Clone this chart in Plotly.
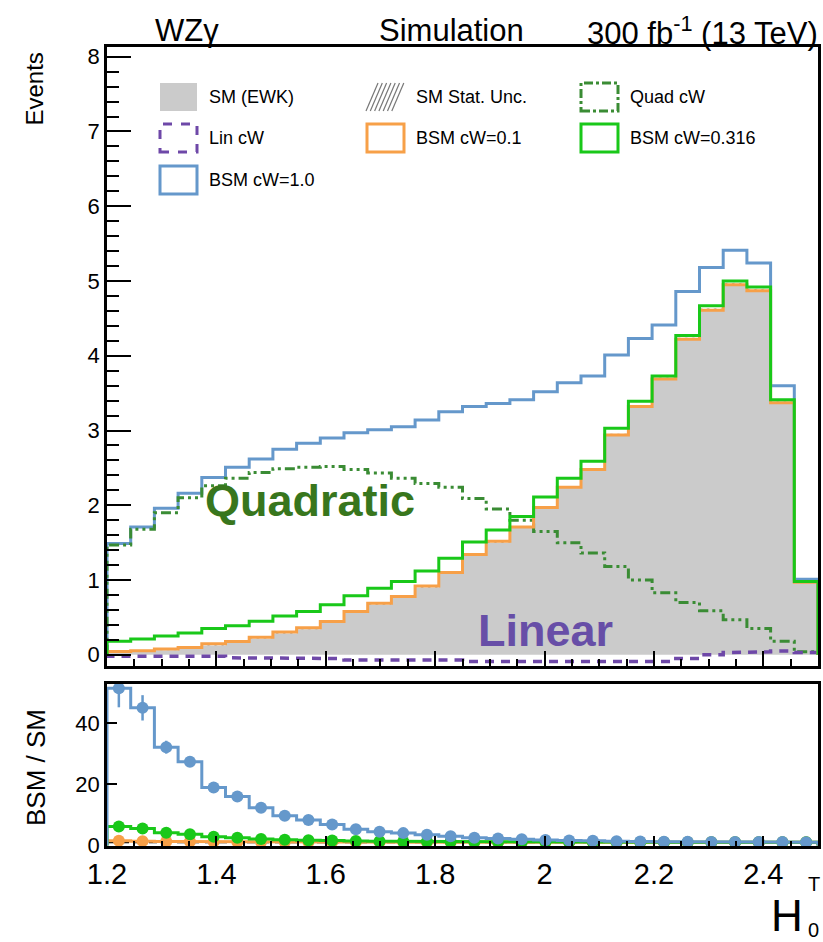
import numpy as np
import plotly.graph_objects as go

# ---------------- data (30 bins, 1.2 -> 2.5) ----------------
x_min, x_max, n_bins = 1.2, 2.5, 30

sm_ewk = [0.029, 0.038, 0.061, 0.079, 0.125, 0.157, 0.213, 0.284, 0.341, 0.426,
          0.56, 0.67, 0.76, 0.90, 1.08, 1.32, 1.50, 1.70, 1.96, 2.23,
          2.47, 2.93, 3.31, 3.68, 4.21, 4.60, 4.94, 4.86, 3.36, 0.96]
sm_stat_unc = [0.0035, 0.0035, 0.004, 0.0045, 0.006, 0.007, 0.008, 0.009, 0.010, 0.011,
               0.012, 0.013, 0.014, 0.015, 0.017, 0.018, 0.020, 0.021, 0.023, 0.024,
               0.025, 0.027, 0.029, 0.030, 0.032, 0.034, 0.035, 0.035, 0.030, 0.015]
quad_cw = [1.47, 1.68, 1.90, 2.10, 2.26, 2.36, 2.44, 2.49, 2.51, 2.52,
           2.48, 2.43, 2.36, 2.29, 2.24, 2.09, 1.95, 1.80, 1.65, 1.50,
           1.36, 1.18, 1.00, 0.83, 0.70, 0.59, 0.47, 0.35, 0.18, 0.04]
lin_cw = [-0.02, -0.02, -0.02, -0.02, -0.02, -0.04, -0.04, -0.05, -0.05, -0.05,
          -0.07, -0.07, -0.07, -0.07, -0.07, -0.09, -0.09, -0.09, -0.09, -0.09,
          -0.09, -0.09, -0.09, -0.09, -0.05, 0.00, 0.03, 0.04, 0.05, 0.03]
bsm_cw_0p1 = [0.044, 0.053, 0.078, 0.098, 0.146, 0.177, 0.234, 0.304, 0.361, 0.446,
              0.58, 0.69, 0.78, 0.92, 1.10, 1.34, 1.52, 1.71, 1.97, 2.24,
              2.48, 2.94, 3.32, 3.69, 4.22, 4.61, 4.95, 4.87, 3.37, 0.97]
bsm_cw_0p316 = [0.18, 0.21, 0.25, 0.29, 0.35, 0.39, 0.45, 0.52, 0.58, 0.67,
                0.79, 0.89, 0.98, 1.12, 1.29, 1.51, 1.67, 1.85, 2.11, 2.36,
                2.59, 3.03, 3.39, 3.73, 4.27, 4.67, 5.00, 4.92, 3.41, 0.98]
bsm_cw_1p0 = [1.49, 1.71, 1.96, 2.16, 2.37, 2.51, 2.62, 2.75, 2.83, 2.90,
              2.97, 3.01, 3.05, 3.14, 3.25, 3.32, 3.36, 3.41, 3.52, 3.64,
              3.73, 4.01, 4.23, 4.41, 4.86, 5.18, 5.41, 5.24, 3.60, 1.01]

legend_labels = ["SM (EWK)", "SM Stat. Unc.", "Quad cW",
                 "Lin cW", "BSM cW=0.1", "BSM cW=0.316", "BSM cW=1.0"]

# ---------------- style ----------------
FONT = "Liberation Sans, Arial, Helvetica, sans-serif"
C_SM = "#cbcbcb"
C_BLUE = "#6598cb"
C_GREEN = "#19c819"
C_ORANGE = "#f7a048"
C_QUAD = "#3a8c34"
C_LIN = "#6e48a8"
W, H = 823, 942


def fx(px):
    return px / W


def fy(py):
    return 1 - py / H


edges = np.linspace(x_min, x_max, n_bins + 1)
centers = 0.5 * (edges[:-1] + edges[1:])
bw = edges[1] - edges[0]


def step_xy(vals):
    xs, ys = [edges[0]], [0.0]
    for i, v in enumerate(vals):
        xs += [edges[i], edges[i + 1]]
        ys += [v, v]
    xs.append(edges[-1])
    ys.append(0.0)
    return xs, ys


sm = np.array(sm_ewk)
unc = np.array(sm_stat_unc)

fig = go.Figure()

# SM filled histogram
sx, sy = step_xy(sm_ewk)
fig.add_trace(go.Scatter(x=sx, y=sy, mode="lines", fill="tozeroy",
                         fillcolor=C_SM, line=dict(color=C_SM, width=0),
                         xaxis="x", yaxis="y", hoverinfo="skip"))
# SM stat unc (hatched)
fig.add_trace(go.Bar(x=centers, y=2 * unc, base=sm - unc, width=bw,
                     marker=dict(color="rgba(0,0,0,0)", line=dict(width=0),
                                 pattern=dict(shape="/", fgcolor="#333333",
                                              bgcolor="rgba(0,0,0,0)", size=5,
                                              solidity=0.3)),
                     xaxis="x", yaxis="y", hoverinfo="skip"))

lines_main = [
    (bsm_cw_1p0, C_BLUE, "solid", 3),
    (quad_cw, C_QUAD, "10px,4px,3px,4px,3px,4px", 3),
    (lin_cw, C_LIN, "9px,7px", 3.5),
    (bsm_cw_0p1, C_ORANGE, "solid", 3),
    (bsm_cw_0p316, C_GREEN, "solid", 3),
]
for vals, col, dash, lw in lines_main:
    lx, ly = step_xy(vals)
    fig.add_trace(go.Scatter(x=lx, y=ly, mode="lines",
                             line=dict(color=col, width=lw, dash=dash),
                             xaxis="x", yaxis="y", hoverinfo="skip"))

# ---------------- ratio panel ----------------
fig.add_trace(go.Scatter(x=[x_min, x_max], y=[1, 1], mode="lines",
                         line=dict(color="black", width=2, dash="8px,6px"),
                         xaxis="x2", yaxis="y2", hoverinfo="skip"))
for vals, col in [(bsm_cw_0p1, C_ORANGE), (bsm_cw_0p316, C_GREEN), (bsm_cw_1p0, C_BLUE)]:
    r = np.array(vals) / sm
    rerr = r * unc / sm
    rx, ry = step_xy(r)
    fig.add_trace(go.Scatter(x=rx, y=ry, mode="lines",
                             line=dict(color=col, width=3),
                             xaxis="x2", yaxis="y2", hoverinfo="skip"))
    fig.add_trace(go.Scatter(x=centers, y=r, mode="markers",
                             marker=dict(color=col, size=12),
                             error_y=dict(type="data", array=rerr, color=col,
                                          thickness=2.5, width=0),
                             xaxis="x2", yaxis="y2", hoverinfo="skip"))

# ---------------- axes ----------------
xdom = [fx(107), fx(818)]
axis_common = dict(showline=True, linecolor="black", linewidth=2.5, mirror=True,
                   showgrid=False, zeroline=False, ticks="inside",
                   tickcolor="black", tickwidth=1.5, automargin=False)
fig.update_layout(
    width=W, height=H, margin=dict(l=0, r=0, t=0, b=0, autoexpand=False),
    paper_bgcolor="white", plot_bgcolor="white", showlegend=False,
    font=dict(family=FONT, color="black"),
    barmode="overlay",
    xaxis=dict(domain=xdom, range=[x_min, x_max], anchor="y",
               showticklabels=False, ticklen=15, dtick=0.2, tick0=0,
               minor=dict(ticks="inside", ticklen=7, dtick=0.05, tick0=0,
                          tickcolor="black", tickwidth=1.5),
               **axis_common),
    yaxis=dict(domain=[fy(666), fy(47)], range=[-0.15, 8.13], anchor="x",
               ticklen=24, dtick=1, tick0=0,
               minor=dict(ticks="inside", ticklen=12, dtick=0.2, tick0=0,
                          tickcolor="black", tickwidth=1.5),
               tickfont=dict(size=22, family=FONT), **axis_common),
    xaxis2=dict(domain=xdom, range=[x_min, x_max], anchor="y2",
                ticklen=10, dtick=0.2, tick0=0,
                minor=dict(ticks="inside", ticklen=5, dtick=0.05, tick0=0,
                           tickcolor="black", tickwidth=1.5),
                tickfont=dict(size=29, family=FONT), **axis_common),
    yaxis2=dict(domain=[fy(846), fy(684)], range=[-0.2, 52.8], anchor="x2",
                ticklen=10, tickvals=[0, 20, 40],
                tickfont=dict(size=22, family=FONT), **axis_common),
)

# ---------------- text ----------------
ann = []


def add_text(text, px, py, size, xanchor="center", yanchor="middle",
             color="black", bold=False, angle=0):
    ann.append(dict(text=("<b>%s</b>" % text) if bold else text,
                    x=fx(px), y=fy(py), xref="paper", yref="paper",
                    xanchor=xanchor, yanchor=yanchor, showarrow=False,
                    textangle=angle, font=dict(size=size, color=color, family=FONT)))


add_text("WZγ", 187, 31, 31)
add_text("Simulation", 451, 31, 31)
add_text("300 fb<sup>-1</sup> (13 TeV)", 820, 31, 31, xanchor="right")
add_text("Events", 34, 51, 24, yanchor="top", angle=-90)
add_text("BSM / SM", 36, 768, 26, angle=-90)
add_text("H", 805, 915, 44, xanchor="right")
add_text("T", 806, 884, 20, xanchor="left")
add_text("0", 806, 930, 20, xanchor="left")
add_text("Quadratic", 310, 500, 45, color="#38761d", bold=True)
add_text("Linear", 545, 630, 45, color="#674ea7", bold=True)

# ---------------- manual legend (ROOT style) ----------------
shapes = []
col_box_x = [160, 367, 581]
row_y = [97, 138, 180]
bw_px, bh_px = 37, 28
entries = [
    (0, 0, "fill", C_SM, None),
    (0, 1, "hatch", "#777777", None),
    (0, 2, "box", C_QUAD, "dashdot"),
    (1, 0, "box", C_LIN, "dash"),
    (1, 1, "box", C_ORANGE, "solid"),
    (1, 2, "box", C_GREEN, "solid"),
    (2, 0, "box", C_BLUE, "solid"),
]
for k, (r, c, kind, col, dash) in enumerate(entries):
    x0 = col_box_x[c]
    x1 = x0 + bw_px
    yc = row_y[r]
    y0, y1 = yc - bh_px / 2, yc + bh_px / 2
    if kind == "fill":
        shapes.append(dict(type="rect", xref="paper", yref="paper",
                           x0=fx(x0), x1=fx(x1), y0=fy(y1), y1=fy(y0),
                           fillcolor=col, line=dict(width=0)))
    elif kind == "hatch":
        for i in range(7):
            xs = x0 - 1 + 4.3 * i
            shapes.append(dict(type="line", xref="paper", yref="paper",
                               x0=fx(xs), y0=fy(y1), x1=fx(xs + 12), y1=fy(y0),
                               line=dict(color=col, width=1.2)))
    else:
        shapes.append(dict(type="rect", xref="paper", yref="paper",
                           x0=fx(x0), x1=fx(x1), y0=fy(y1), y1=fy(y0),
                           fillcolor="rgba(0,0,0,0)",
                           line=dict(color=col, width=3, dash=dash)))
    add_text(legend_labels[k], x1 + 10, yc, 18, xanchor="left")

fig.update_layout(annotations=ann, shapes=shapes)

fig.write_html("out.html")
